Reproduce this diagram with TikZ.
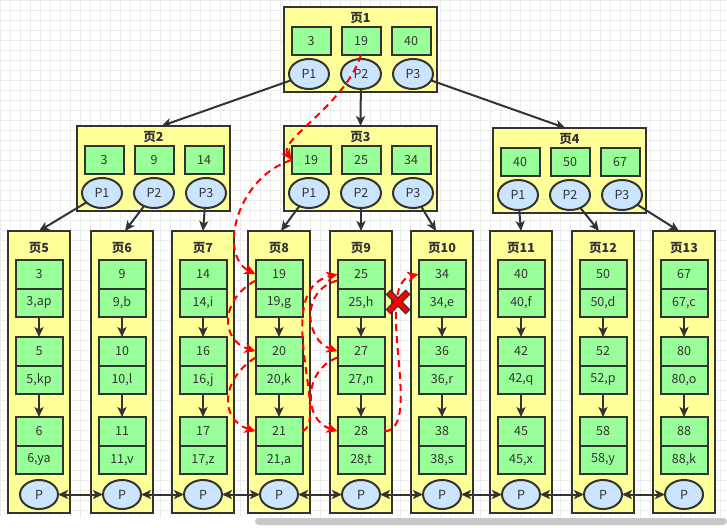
\documentclass[tikz,border=0pt]{standalone}
\usepackage{fontspec}
\setmainfont{Noto Sans CJK SC}
\usetikzlibrary{arrows.meta,shapes.geometric,calc}
\definecolor{pagey}{HTML}{FFFF99}
\definecolor{keyg}{HTML}{99FF99}
\definecolor{ptrb}{HTML}{CCE5FF}
\definecolor{strk}{HTML}{333333}
\definecolor{gridc}{HTML}{EBEBEB}
\definecolor{redc}{HTML}{FF0000}
\definecolor{barc}{HTML}{C8C8C8}
\tikzset{
 page/.style={draw=strk, fill=pagey, line width=2pt, rectangle, inner sep=0pt, outer sep=0pt},
 ptitle/.style={text=strk, font=\fontsize{12.5}{14}\selectfont\bfseries, inner sep=0pt},
 cell/.style={draw=strk, fill=keyg, line width=2pt, rectangle, inner sep=0pt, outer sep=0pt, minimum width=47pt, minimum height=28.5pt, text=strk, font=\fontsize{12.5}{14}\selectfont},
 keybox/.style={cell, minimum width=39pt, minimum height=28pt},
 ptr/.style={draw=strk, fill=ptrb, line width=2pt, ellipse, inner sep=0pt, outer sep=0pt, minimum width=40pt, minimum height=30pt, text=strk, font=\fontsize{12.5}{14}\selectfont},
 lptr/.style={ptr, minimum width=38pt, minimum height=29pt},
 arr/.style={draw=strk, line width=2pt, -{Stealth[length=10pt,width=9pt,inset=2.5pt]}},
 darr/.style={draw=strk, line width=2pt, {Stealth[length=10pt,width=9pt,inset=2.5pt]}-{Stealth[length=10pt,width=9pt,inset=2.5pt]}},
 redarr/.style={draw=redc, line width=2pt, dash pattern=on 7pt off 5pt, -{Stealth[length=11pt,width=10pt,inset=3pt]}},
}
\newcommand\leafpage[8]{%
 \node[page, minimum width=62pt, minimum height=282pt] (L#1) at (#2+31,372) {};
 \node[ptitle] (Lt#1) at (#2+31,248) {页#1};
 \node[cell] (La#1) at (#2+31,274.25) {#3};
 \node[cell] (Lav#1) at (#2+31,302.75) {#4};
 \node[cell] (Lb#1) at (#2+31,351.25) {#5};
 \node[cell] (Lbv#1) at (#2+31,379.75) {#6};
 \node[cell] (Lc#1) at (#2+31,431.25) {#7};
 \node[cell] (Lcv#1) at (#2+31,459.75) {#8};
 \node[lptr] (Lp#1) at (#2+31,494.5) {P};
 \draw[arr] (Lav#1) -- (Lb#1);
 \draw[arr] (Lbv#1) -- (Lc#1);
}
\newcommand\innerpage[6]{%
 \node[page, minimum width=153pt, minimum height=85pt] (U#1) at (#2+76.5,#3+42.5) {};
 \node[ptitle] (Ut#1) at (#2+76.5,#3+11) {页#1};
 \node[keybox] (Uka#1) at (#2+27,#3+34) {#4};
 \node[keybox] (Ukb#1) at (#2+77,#3+34) {#5};
 \node[keybox] (Ukc#1) at (#2+127,#3+34) {#6};
 \node[ptr] (Upa#1) at (#2+25,#3+67) {P1};
 \node[ptr] (Upb#1) at (#2+77,#3+67) {P2};
 \node[ptr] (Upc#1) at (#2+129,#3+67) {P3};
}
\begin{document}
\begin{tikzpicture}[x=1pt,y=-1pt]
\useasboundingbox (0,0) rectangle (727,527);
\fill[white] (0,0) rectangle (727,527);
% background grid
\foreach \gx in {0,10,...,720} \draw[gridc, line width=0.6pt] (\gx,0) -- (\gx,517);
\foreach \gy in {0,10,...,510} \draw[gridc, line width=0.6pt] (0,\gy) -- (727,\gy);
\fill[barc, rounded corners=3.5pt] (255,518) rectangle (727,525);

% upper pages
\innerpage{1}{284}{7}{3}{19}{40}
\innerpage{2}{77}{126}{3}{9}{14}
\innerpage{3}{284}{126}{19}{25}{34}
\innerpage{4}{493}{128}{40}{50}{67}

% leaf pages
\leafpage{5}{8}{3}{3,ap}{5}{5,kp}{6}{6,ya}
\leafpage{6}{91}{9}{9,b}{10}{10,l}{11}{11,v}
\leafpage{7}{172}{14}{14,i}{16}{16,j}{17}{17,z}
\leafpage{8}{248}{19}{19,g}{20}{20,k}{21}{21,a}
\leafpage{9}{330}{25}{25,h}{27}{27,n}{28}{28,t}
\leafpage{10}{411}{34}{34,e}{36}{36,r}{38}{38,s}
\leafpage{11}{490}{40}{40,f}{42}{42,q}{45}{45,x}
\leafpage{12}{572}{50}{50,d}{52}{52,p}{58}{58,y}
\leafpage{13}{653}{67}{67,c}{80}{80,o}{88}{88,k}

% tree edges
\draw[arr] (Upa1) -- ($(U2.north)+(8,0)$);
\draw[arr] (Upb1) -- (U3.north);
\draw[arr] (Upc1) -- ($(U4.north)+(-4,0)$);
\draw[arr] (Upa2) -- (L5.north);
\draw[arr] (Upb2) -- ($(L6.north)+(3,0)$);
\draw[arr] (Upc2) -- (L7.north);
\draw[arr] (Upa3) -- ($(L8.north)+(2,0)$);
\draw[arr] (Upb3) -- (L9.north);
\draw[arr] (Upc3) -- ($(L10.north)+(-6,0)$);
\draw[arr] (Upa4) -- (L11.north);
\draw[arr] (Upb4) -- ($(L12.north)+(-4,0)$);
\draw[arr] (Upc4) -- ($(L13.north)+(-5,0)$);

% leaf links
\foreach \a/\b in {5/6,6/7,7/8,8/9,9/10,10/11,11/12,12/13}
  \draw[darr] (Lp\a) -- (Lp\b);

% red search path
\draw[redarr] (Ukb1.south) .. controls (345,105) and (278,140) .. (Uka3.west);
\draw[redarr] (Uka3.west) .. controls (236,178) and (218,255) .. (La8.west);
\draw[redarr] (La8.195) .. controls (220,300) and (220,340) .. (Lb8.west);
\draw[redarr] (Lb8.195) .. controls (220,380) and (220,420) .. (Lc8.west);
\draw[redarr] (Lc8.east) .. controls (330,420) and (270,290) .. (La9.west);
\draw[redarr] (La9.195) .. controls (300,290) and (305,340) .. (Lb9.west);
\draw[redarr] (Lb9.195) .. controls (303,370) and (303,420) .. (Lc9.west);
\draw[redarr] (Lc9.east) .. controls (425,430) and (372,285) .. (La10.west);

% red cross
\coordinate (xc) at (398,302);
\draw[strk, line width=7pt] ($(xc)+(-10,-10)$) -- ($(xc)+(10,10)$) ($(xc)+(-10,10)$) -- ($(xc)+(10,-10)$);
\draw[redc, line width=4.5pt] ($(xc)+(-9.2,-9.2)$) -- ($(xc)+(9.2,9.2)$) ($(xc)+(-9.2,9.2)$) -- ($(xc)+(9.2,-9.2)$);
\end{tikzpicture}
\end{document}
